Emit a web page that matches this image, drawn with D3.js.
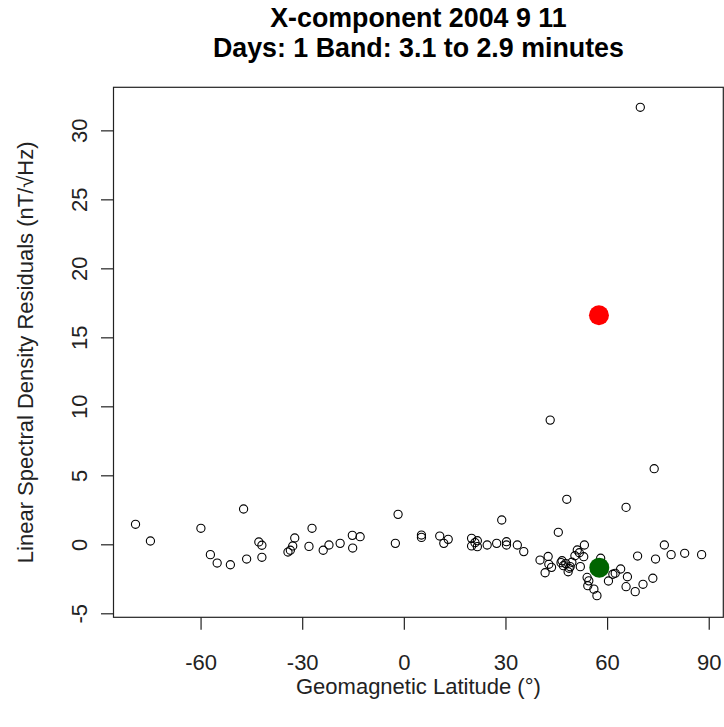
<!DOCTYPE html>
<html>
<head>
<meta charset="utf-8">
<script src="https://cdn.jsdelivr.net/npm/d3@7"></script>
<style>
  body { margin: 0; background: #fff; }
  svg { display: block; font-family: "Liberation Sans", Arial, sans-serif; }
</style>
</head>
<body>
<svg id="chart" width="724" height="727"></svg>
<script>
// station residuals (geomagnetic latitude, residual)
var lat = [-79.2, -74.8, -59.9, -57.1, -55.1, -51.2, -47.3, -46.4, -42.8, -41.9,
  -41.9, -34.2, -33.5, -32.8, -32.2, -28.0, -27.1, -23.8, -22.1, -18.8,
  -15.2, -15.1, -12.9, -2.5, -1.7, 5.2, 5.2, 10.6, 11.8, 13.1,
  20.0, 20.0, 21.0, 21.7, 21.7, 24.6, 27.4, 28.9, 30.3, 30.3,
  33.5, 35.4, 40.2, 41.7, 42.6, 42.8, 43.2, 43.6, 45.6, 46.4,
  46.7, 47.1, 47.8, 48.1, 48.5, 48.8, 49.1, 49.6, 50.5, 51.2,
  51.8, 52.1, 53.1, 53.3, 54.1, 54.6, 54.3, 56.1, 57.0, 58.1,
  60.4, 61.7, 62.4, 64.0, 65.6, 65.6, 66.0, 68.3, 69.0, 69.8,
  70.6, 73.5, 73.9, 74.3, 76.9, 78.9, 82.9, 87.9];
var resid = [1.45, 0.24, 1.16, -0.75, -1.36, -1.48, 2.56, -1.07, 0.17, -0.07,
  -0.94, -0.56, -0.43, -0.12, 0.46, -0.15, 1.16, -0.43, -0.05, 0.07,
  0.65, -0.27, 0.55, 0.07, 2.17, 0.67, 0.5, 0.6, 0.07, 0.36,
  0.43, -0.12, 0.12, 0.26, -0.17, -0.05, 0.07, 1.76, 0.19, -0.05,
  -0.05, -0.53, -1.14, -2.06, -0.88, -1.45, 9.0, -1.67, 0.87, -1.33,
  -1.19, -1.55, -1.40, 3.26, -1.99, -1.74, -1.62, -1.30, -0.83, -0.41,
  -0.61, -1.62, -0.90, -0.05, -2.40, -2.65, -3.00, -3.25, -3.72, -1.01,
  -2.66, -2.17, -2.10, -1.79, 2.68, -3.07, -2.35, -3.43, -0.85, 31.67,
  -2.90, -2.46, 5.48, -1.07, -0.05, -0.75, -0.65, -0.75];

// highlighted stations
var highlights = [
  { lat: 57.6, resid: 16.6, color: "#ff0000" },
  { lat: 57.7, resid: -1.69, color: "#006400" }
];

var xTicks = [-60, -30, 0, 30, 60, 90];
var yTicks = [-5, 0, 5, 10, 15, 20, 25, 30];
var titleLines = ["X-component 2004 9 11", "Days: 1 Band: 3.1 to 2.9 minutes"];

var svg = d3.select("#chart");
var plotL = 113.5, plotR = 723.3, plotT = 87.3, plotB = 617.3;
var midX = (plotL + plotR) / 2, midY = (plotT + plotB) / 2;

var x = d3.scaleLinear().domain([-85.7, 94.3]).range([plotL, plotR]);
var y = d3.scaleLinear().domain([-5.29, 33.12]).range([plotB, plotT]);
var plain = function (d) { return String(d); };

// points
svg.append("g")
  .selectAll("circle")
  .data(d3.range(lat.length))
  .enter().append("circle")
  .attr("cx", function (i) { return x(lat[i]); })
  .attr("cy", function (i) { return y(resid[i]); })
  .attr("r", 4.1)
  .attr("fill", "none")
  .attr("stroke", "#000")
  .attr("stroke-width", 1.1);

svg.append("g")
  .selectAll("circle")
  .data(highlights)
  .enter().append("circle")
  .attr("cx", function (d) { return x(d.lat); })
  .attr("cy", function (d) { return y(d.resid); })
  .attr("r", 10)
  .attr("fill", function (d) { return d.color; });

// box
svg.append("rect")
  .attr("x", plotL).attr("y", plotT)
  .attr("width", plotR - plotL).attr("height", plotB - plotT)
  .attr("fill", "none").attr("stroke", "#222").attr("stroke-width", 1.2);

// axes
var xAxis = svg.append("g")
  .attr("transform", "translate(0," + plotB + ")")
  .call(d3.axisBottom(x).tickValues(xTicks).tickFormat(plain).tickSize(12.5));
var yAxis = svg.append("g")
  .attr("transform", "translate(" + plotL + ",0)")
  .call(d3.axisLeft(y).tickValues(yTicks).tickFormat(plain).tickSize(12.5));

[xAxis, yAxis].forEach(function (g) {
  g.select(".domain").remove();
  g.selectAll(".tick line").attr("stroke", "#222").attr("stroke-width", 1.2);
  g.selectAll(".tick text")
    .attr("fill", "#222")
    .style("font-size", "22px")
    .style("font-family", "'Liberation Sans', Arial, sans-serif");
});
xAxis.selectAll(".tick text").attr("dy", null).attr("y", 53);
yAxis.selectAll(".tick text")
  .attr("x", null).attr("dy", null).attr("y", null)
  .attr("text-anchor", "middle")
  .attr("transform", "translate(-27,0) rotate(-90)");

// titles
svg.append("g").selectAll("text")
  .data(titleLines)
  .enter().append("text")
  .attr("x", midX)
  .attr("y", function (d, i) { return 27 + i * 30; })
  .attr("text-anchor", "middle")
  .style("font-size", "26.8px")
  .style("font-weight", "bold")
  .attr("fill", "#000")
  .text(function (d) { return d; });

svg.append("text")
  .attr("x", midX).attr("y", 694)
  .attr("text-anchor", "middle")
  .style("font-size", "22px")
  .attr("fill", "#222")
  .text("Geomagnetic Latitude (°)");

svg.append("text")
  .attr("transform", "translate(33," + midY + ") rotate(-90)")
  .attr("text-anchor", "middle")
  .style("font-size", "22px")
  .attr("fill", "#222")
  .text("Linear Spectral Density Residuals (nT/\u221AHz)");
</script>
</body>
</html>
